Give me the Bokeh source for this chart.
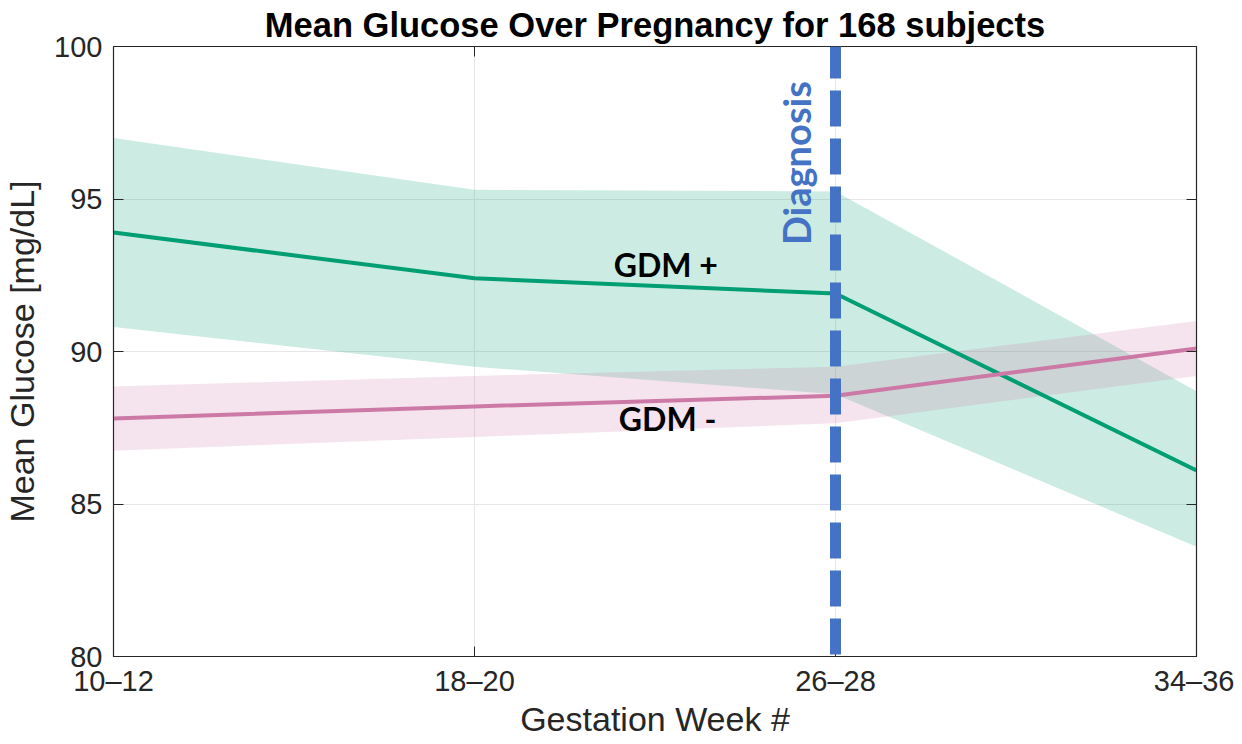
import numpy as np
from bokeh.plotting import figure
from bokeh.models import Span, Label, LinearAxis, FixedTicker, Range1d
from bokeh.embed import file_html
from bokeh.resources import INLINE

weeks = ["10–12", "18–20", "26–28", "34–36"]
gdm_pos_mean = [93.9, 92.4, 91.9, 86.1]
gdm_pos_upper = [97.0, 95.3, 95.25, 88.7]
gdm_pos_lower = [90.8, 89.5, 88.6, 83.6]
gdm_neg_mean = [87.8, 88.2, 88.55, 90.1]
gdm_neg_upper = [88.85, 89.2, 89.5, 91.0]
gdm_neg_lower = [86.75, 87.2, 87.65, 89.2]
diagnosis_week = "26–28"
y_ticks = [80, 85, 90, 95, 100]

xs = list(range(len(weeks)))
GREEN = "#009E73"
PINK = "#CC79A7"
BLUE = "#4472C4"
AX = "#262626"
FONT = "Liberation Sans"

p = figure(frame_width=1083, frame_height=610, output_backend="svg", toolbar_location=None,
           x_range=Range1d(0, len(weeks) - 1), y_range=Range1d(80, 100),
           min_border_left=105, min_border_right=38, min_border_top=39, min_border_bottom=70,
           title="Mean Glucose Over Pregnancy for 168 subjects")
p.title.align = "center"
p.title.text_font = FONT
p.title.text_font_size = "34.5px"
p.title.text_font_style = "bold"
p.title.text_color = "#000000"
p.title.offset = 0
p.title.standoff = 6

p.outline_line_color = AX
p.outline_line_width = 1.2

# bands
p.varea(x=xs, y1=gdm_pos_lower, y2=gdm_pos_upper, fill_color=GREEN, fill_alpha=0.2)
p.varea(x=xs, y1=gdm_neg_lower, y2=gdm_neg_upper, fill_color=PINK, fill_alpha=0.2)
p.line(xs, gdm_pos_mean, line_color=GREEN, line_width=4)
p.line(xs, gdm_neg_mean, line_color=PINK, line_width=4)

# axes styling
xt = FixedTicker(ticks=xs)
yt = FixedTicker(ticks=y_ticks)
p.xaxis.ticker = xt
p.yaxis.ticker = yt
p.xaxis.major_label_overrides = {i: w for i, w in enumerate(weeks)}
for ax in (p.xaxis[0], p.yaxis[0]):
    ax.axis_line_color = AX
    ax.major_tick_line_color = AX
    ax.major_tick_in = 10
    ax.major_tick_out = 0
    ax.minor_tick_line_color = None
    ax.major_label_text_font = FONT
    ax.major_label_text_font_size = "29px"
    ax.major_label_text_color = AX
    ax.axis_label_text_font = FONT
    ax.axis_label_text_font_size = "34px"
    ax.axis_label_text_font_style = "normal"
    ax.axis_label_text_color = AX
p.xaxis.axis_label = "Gestation Week #"
p.yaxis.axis_label = "Mean Glucose [mg/dL]"
p.xaxis.major_label_standoff = 8
p.yaxis.major_label_standoff = 11
p.xaxis.axis_label_standoff = 0
p.yaxis.axis_label_standoff = 10

for loc, tk in (("right", yt), ("above", xt)):
    ax = LinearAxis(ticker=tk)
    ax.axis_line_color = AX
    ax.major_tick_line_color = AX
    ax.major_tick_in = 10
    ax.major_tick_out = 0
    ax.minor_tick_line_color = None
    ax.major_label_text_font_size = "0px"
    ax.major_label_standoff = 0
    p.add_layout(ax, loc)

p.xgrid.ticker = xt
p.ygrid.ticker = yt
p.grid.grid_line_color = "#e6e6e6"
p.grid.grid_line_width = 1

# diagnosis line
dx = weeks.index(diagnosis_week)
p.add_layout(Span(location=dx, dimension="height", line_color=BLUE, line_width=11,
                  line_dash="36 12", line_dash_offset=4))
p.add_layout(Label(x=1.890, y=96.18, text="Diagnosis", angle=np.pi / 2, text_align="center",
                   text_baseline="middle", text_font="Lato", text_font_style="bold",
                   text_font_size="38px", text_color=BLUE))
p.add_layout(Label(x=1.530, y=92.85, text="GDM +", text_align="center", text_baseline="middle",
                   text_font="Lato", text_font_style="bold", text_font_size="32px",
                   text_color="#000000"))
p.add_layout(Label(x=1.535, y=87.80, text="GDM -", text_align="center", text_baseline="middle",
                   text_font="Lato", text_font_style="bold", text_font_size="32px",
                   text_color="#000000"))

open("out.html", "w").write(file_html(p, INLINE))
